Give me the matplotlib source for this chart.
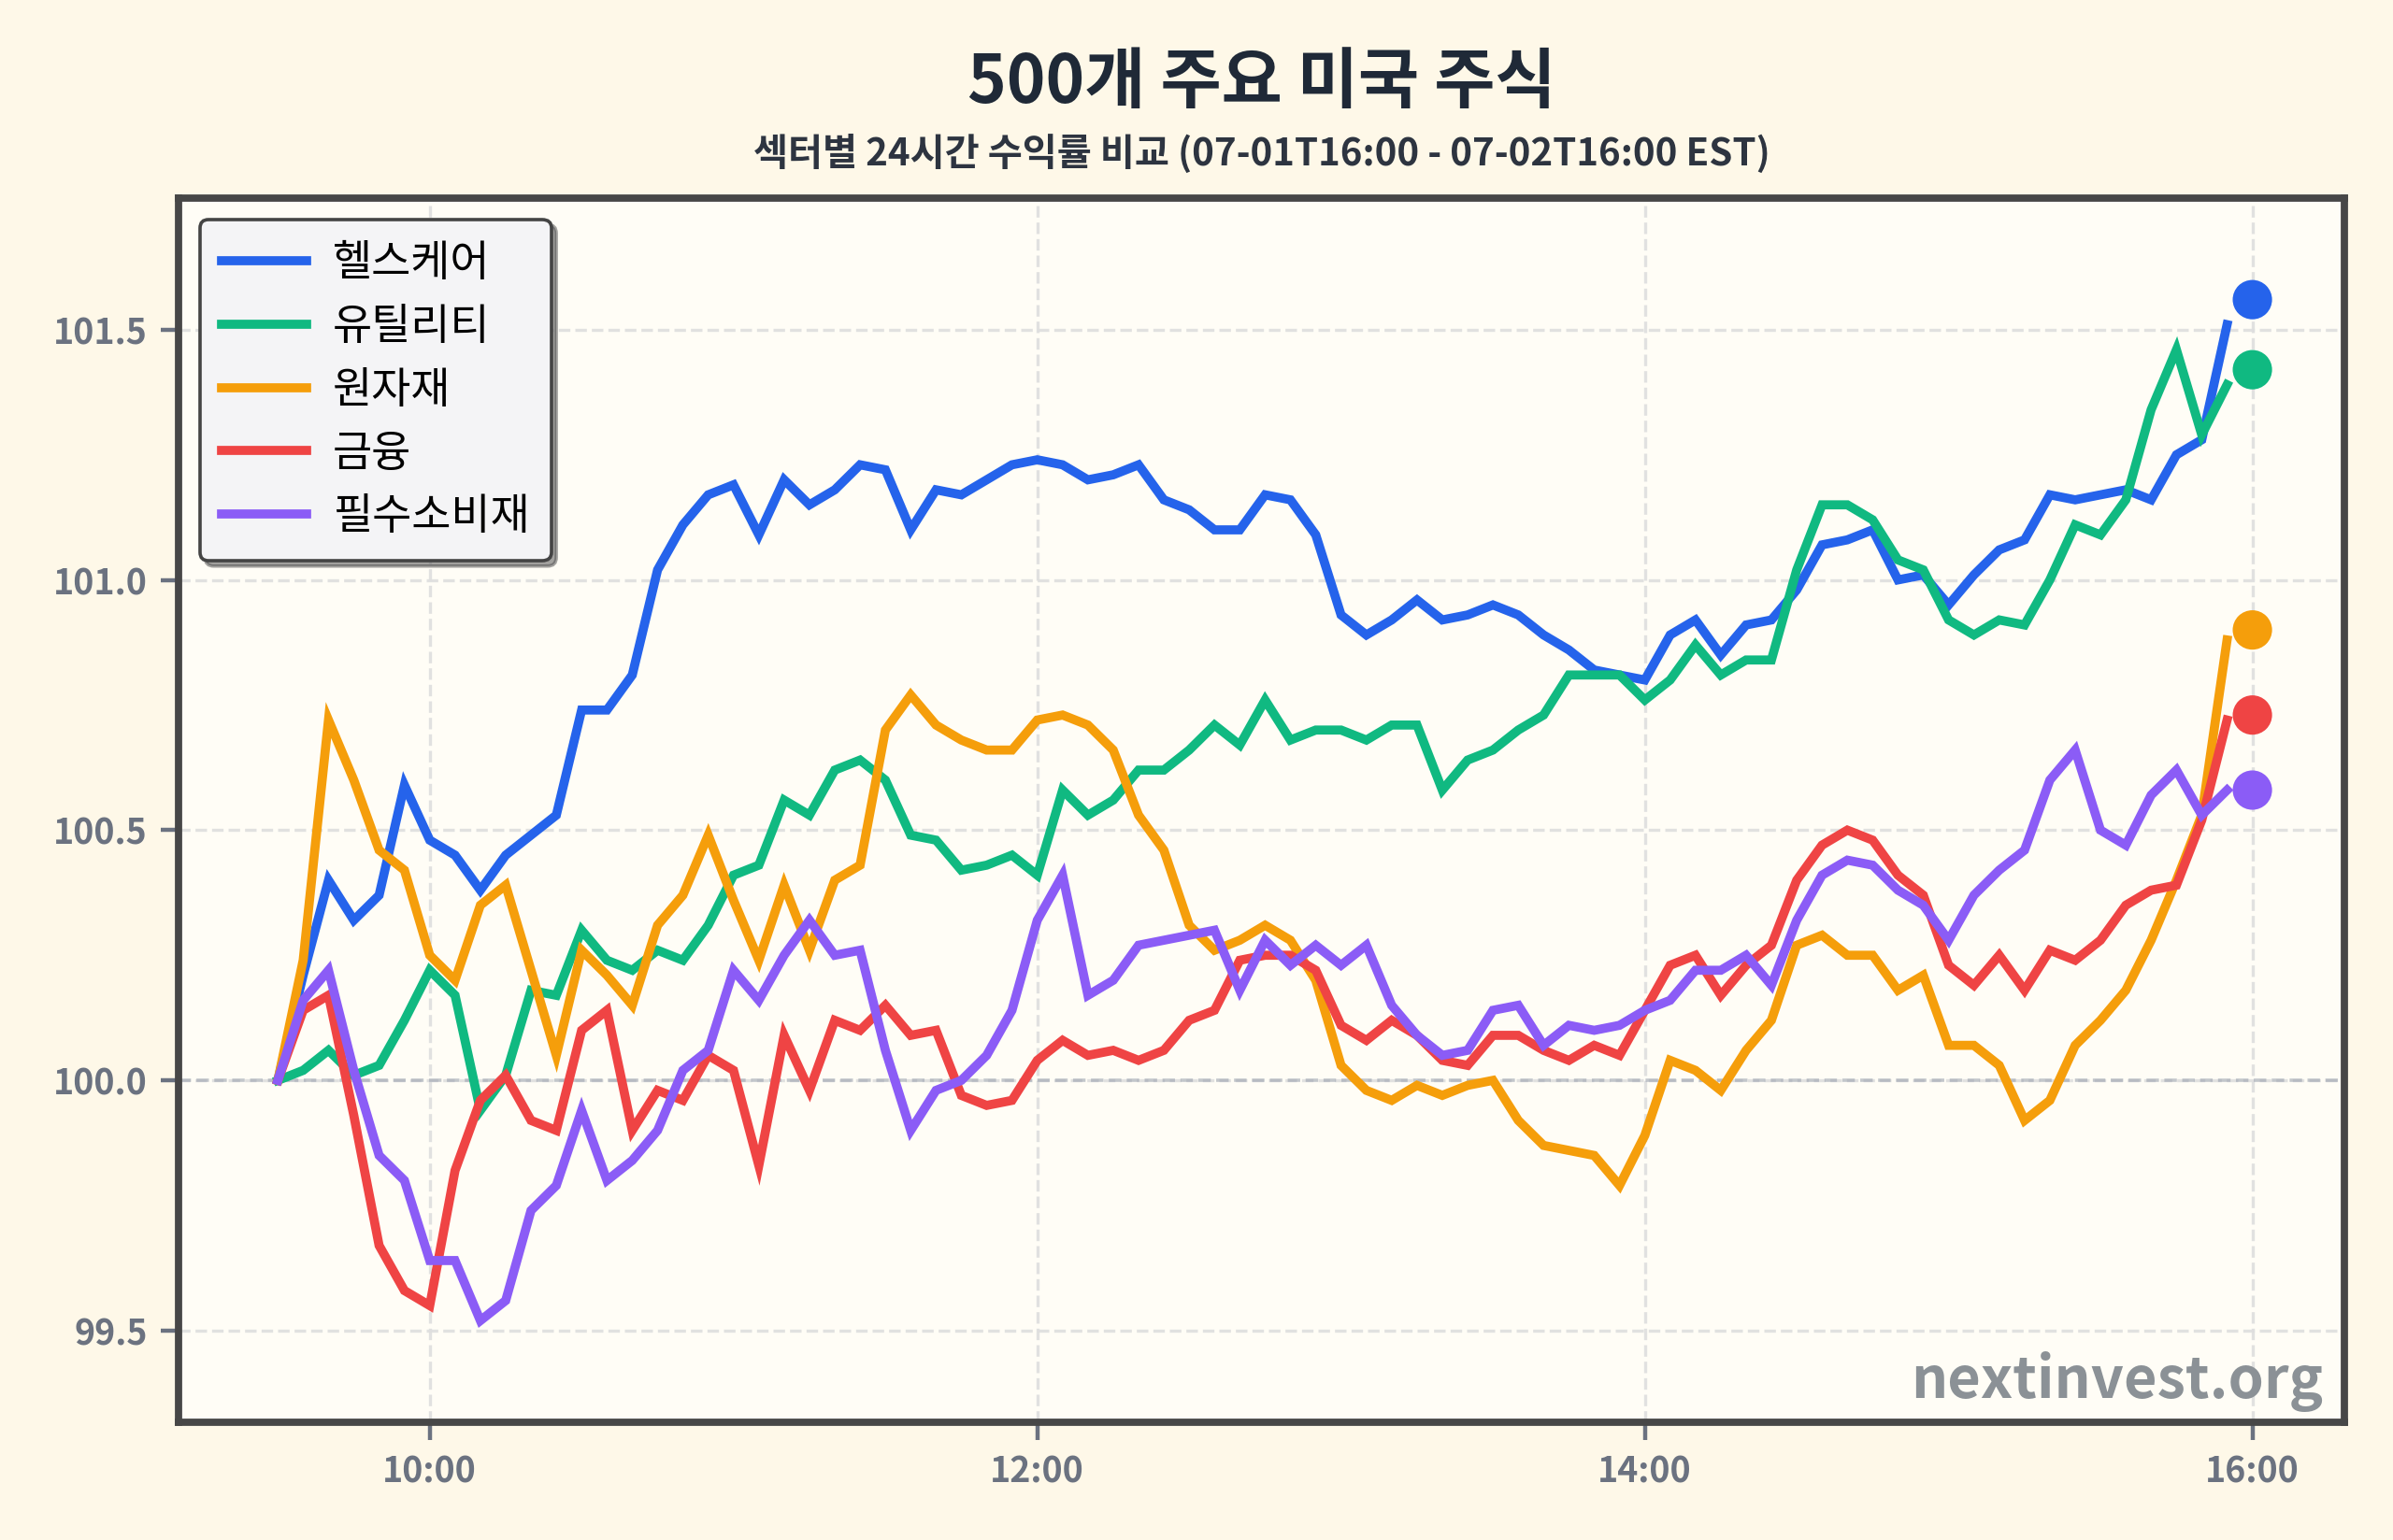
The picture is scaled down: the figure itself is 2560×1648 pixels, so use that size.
import matplotlib

matplotlib.use("Agg")
import matplotlib.pyplot as plt
import numpy as np

FONT = ["Noto Sans CJK KR", "DejaVu Sans"]

TITLE = "500개 주요 미국 주식"
SUBTITLE = "섹터별 24시간 수익률 비교 (07-01T16:00 - 07-02T16:00 EST)"
WATERMARK = "nextinvest.org"

START_HOUR = 9.5
STEP_MIN = 5
CLOSE_HOUR = 16.0
XTICKS = [10, 12, 14, 16]
XTICK_LABELS = ["10:00", "12:00", "14:00", "16:00"]
YTICKS = [99.5, 100.0, 100.5, 101.0, 101.5]

SECTORS = ["헬스케어", "유틸리티", "원자재", "금융", "필수소비재"]
COLORS = ["#2563eb", "#10b981", "#f59e0b", "#ef4444", "#8b5cf6"]

# index value every 5 minutes, 09:30 .. 15:55
HEALTHCARE = [
    100.00, 100.21, 100.40, 100.32, 100.37, 100.59, 100.48, 100.45, 100.38, 100.45,
    100.49, 100.53, 100.74, 100.74, 100.81, 101.02, 101.11, 101.17, 101.19, 101.09,
    101.20, 101.15, 101.18, 101.23, 101.22, 101.10, 101.18, 101.17, 101.20, 101.23,
    101.24, 101.23, 101.20, 101.21, 101.23, 101.16, 101.14, 101.10, 101.10, 101.17,
    101.16, 101.09, 100.93, 100.89, 100.92, 100.96, 100.92, 100.93, 100.95, 100.93,
    100.89, 100.86, 100.82, 100.81, 100.80, 100.89, 100.92, 100.85, 100.91, 100.92,
    100.98, 101.07, 101.08, 101.10, 101.00, 101.01, 100.95, 101.01, 101.06, 101.08,
    101.17, 101.16, 101.17, 101.18, 101.16, 101.25, 101.28, 101.51,
]
UTILITIES = [
    100.00, 100.02, 100.06, 100.01, 100.03, 100.12, 100.22, 100.17, 99.94, 100.01,
    100.18, 100.17, 100.30, 100.24, 100.22, 100.26, 100.24, 100.31, 100.41, 100.43,
    100.56, 100.53, 100.62, 100.64, 100.60, 100.49, 100.48, 100.42, 100.43, 100.45,
    100.41, 100.58, 100.53, 100.56, 100.62, 100.62, 100.66, 100.71, 100.67, 100.76,
    100.68, 100.70, 100.70, 100.68, 100.71, 100.71, 100.58, 100.64, 100.66, 100.70,
    100.73, 100.81, 100.81, 100.81, 100.76, 100.80, 100.87, 100.81, 100.84, 100.84,
    101.02, 101.15, 101.15, 101.12, 101.04, 101.02, 100.92, 100.89, 100.92, 100.91,
    101.00, 101.11, 101.09, 101.16, 101.34, 101.46, 101.29, 101.39,
]
MATERIALS = [
    100.00, 100.24, 100.72, 100.60, 100.46, 100.42, 100.25, 100.20, 100.35, 100.39,
    100.22, 100.05, 100.26, 100.21, 100.15, 100.31, 100.37, 100.49, 100.36, 100.24,
    100.39, 100.26, 100.40, 100.43, 100.70, 100.77, 100.71, 100.68, 100.66, 100.66,
    100.72, 100.73, 100.71, 100.66, 100.53, 100.46, 100.31, 100.26, 100.28, 100.31,
    100.28, 100.20, 100.03, 99.98, 99.96, 99.99, 99.97, 99.99, 100.00, 99.92,
    99.87, 99.86, 99.85, 99.79, 99.89, 100.04, 100.02, 99.98, 100.06, 100.12,
    100.27, 100.29, 100.25, 100.25, 100.18, 100.21, 100.07, 100.07, 100.03, 99.92,
    99.96, 100.07, 100.12, 100.18, 100.28, 100.40, 100.53, 100.88,
]
FINANCIALS = [
    100.00, 100.14, 100.17, 99.93, 99.67, 99.58, 99.55, 99.82, 99.96, 100.01,
    99.92, 99.90, 100.10, 100.14, 99.90, 99.98, 99.96, 100.05, 100.02, 99.83,
    100.09, 99.98, 100.12, 100.10, 100.15, 100.09, 100.10, 99.97, 99.95, 99.96,
    100.04, 100.08, 100.05, 100.06, 100.04, 100.06, 100.12, 100.14, 100.24, 100.25,
    100.25, 100.22, 100.11, 100.08, 100.12, 100.09, 100.04, 100.03, 100.09, 100.09,
    100.06, 100.04, 100.07, 100.05, 100.14, 100.23, 100.25, 100.17, 100.23, 100.27,
    100.40, 100.47, 100.50, 100.48, 100.41, 100.37, 100.23, 100.19, 100.25, 100.18,
    100.26, 100.24, 100.28, 100.35, 100.38, 100.39, 100.52, 100.72,
]
STAPLES = [
    100.00, 100.16, 100.22, 100.02, 99.85, 99.80, 99.64, 99.64, 99.52, 99.56,
    99.74, 99.79, 99.94, 99.80, 99.84, 99.90, 100.02, 100.06, 100.22, 100.16,
    100.25, 100.32, 100.25, 100.26, 100.06, 99.90, 99.98, 100.00, 100.05, 100.14,
    100.32, 100.41, 100.17, 100.20, 100.27, 100.28, 100.29, 100.30, 100.18, 100.28,
    100.23, 100.27, 100.23, 100.27, 100.15, 100.09, 100.05, 100.06, 100.14, 100.15,
    100.07, 100.11, 100.10, 100.11, 100.14, 100.16, 100.22, 100.22, 100.25, 100.19,
    100.32, 100.41, 100.44, 100.43, 100.38, 100.35, 100.28, 100.37, 100.42, 100.46,
    100.60, 100.66, 100.50, 100.47, 100.57, 100.62, 100.53, 100.58,
]
# value at the 16:00 close, shown as dots
CLOSE_VALUES = [101.56, 101.42, 100.90, 100.73, 100.58]

SERIES = [HEALTHCARE, UTILITIES, MATERIALS, FINANCIALS, STAPLES]

FIG_BG = "#fef8e8"
AX_BG = "#fffdf6"
SPINE = "#474747"
TICK = "#6b7280"


def setup_style() -> None:
    plt.rcParams.update(
        {
            "font.family": FONT,
            "font.size": 14,
            "axes.unicode_minus": False,
            "savefig.facecolor": FIG_BG,
        }
    )


def draw_lines(ax: plt.Axes) -> None:
    for name, values, color in zip(SECTORS, SERIES, COLORS):
        hours = START_HOUR + np.arange(len(values)) * STEP_MIN / 60
        ax.plot(hours, values, color=color, linewidth=3.5, label=name, zorder=3,
                solid_joinstyle="miter")
    ax.scatter(np.full(len(CLOSE_VALUES), CLOSE_HOUR), CLOSE_VALUES, s=230,
               color=COLORS, linewidth=0, zorder=4)


def style_axes(ax: plt.Axes) -> None:
    ax.set_facecolor(AX_BG)
    ax.set_xlim(9.173, 16.303)
    ax.set_ylim(99.317, 101.763)
    ax.set_xticks(XTICKS)
    ax.set_xticklabels(XTICK_LABELS)
    ax.set_yticks(YTICKS)
    ax.set_yticklabels([f"{v:.1f}" for v in YTICKS])
    ax.tick_params(axis="both", labelsize=13.5, labelcolor=TICK, color=TICK,
                   length=7, width=1.6, pad=5)
    for lab in ax.get_xticklabels() + ax.get_yticklabels():
        lab.set_fontweight("bold")
    ax.grid(True, color="#dedede", linestyle="--", linewidth=1.2, alpha=0.9, zorder=0)
    ax.set_axisbelow(True)
    ax.axhline(100.0, color="#9ca3af", linestyle="--", linewidth=1.3, alpha=0.6, zorder=1)
    for spine in ax.spines.values():
        spine.set_color(SPINE)
        spine.set_linewidth(2.8)


def main() -> None:
    setup_style()
    fig = plt.figure(figsize=(12.8, 8.24), dpi=200, facecolor=FIG_BG)
    ax = fig.add_axes([0.0746, 0.0765, 0.9051, 0.7949])
    style_axes(ax)
    draw_lines(ax)

    leg = ax.legend(loc="upper left", fontsize=16.5, frameon=True, fancybox=True,
                    shadow=True, handlelength=2.0, handletextpad=0.6,
                    labelspacing=0.42, borderpad=0.5)
    leg.get_frame().set_facecolor("#f4f4f6")
    leg.get_frame().set_edgecolor("#444444")
    leg.get_frame().set_linewidth(1.3)
    leg.get_frame().set_alpha(1.0)

    ax.text(0.99, 0.008, WATERMARK, transform=ax.transAxes, ha="right", va="bottom",
            fontsize=22, fontweight="bold", color="#8b9196", zorder=5)

    cx = 0.0746 + 0.9051 / 2
    fig.text(cx, 0.946, TITLE, ha="center", va="center", fontsize=25.5,
             fontweight="bold", color="#1f2937")
    fig.text(cx, 0.900, SUBTITLE, ha="center", va="center", fontsize=14.5,
             fontweight="bold", color="#2d3440")

    fig.savefig("out.png", dpi=200, facecolor=FIG_BG)
    plt.close(fig)


if __name__ == "__main__":
    main()
